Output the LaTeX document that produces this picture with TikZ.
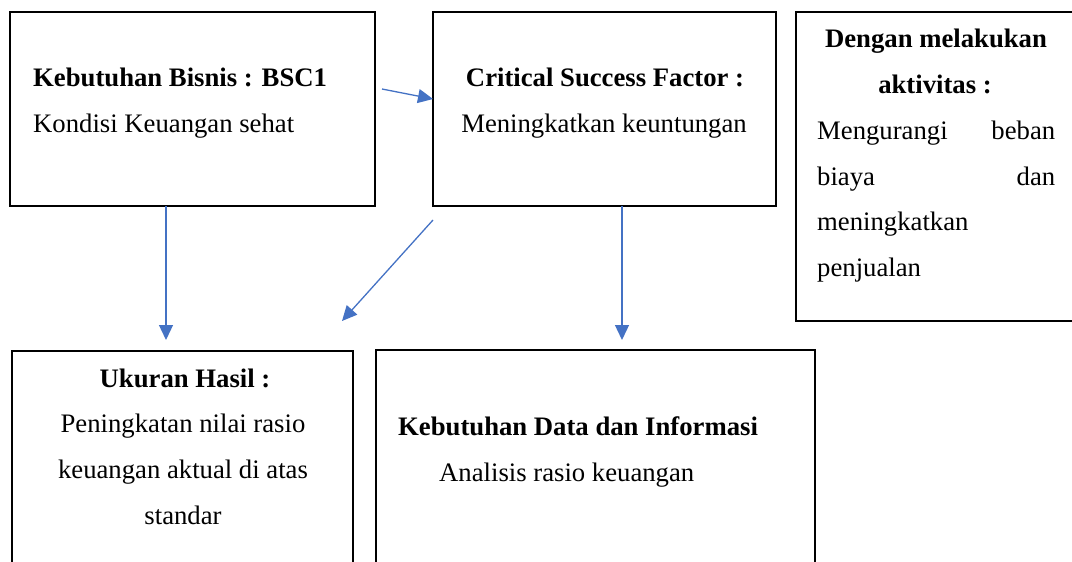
\documentclass[tikz,border=0pt]{standalone}
\usepackage{fontspec}
\setmainfont{Liberation Serif}
\usetikzlibrary{arrows.meta}
\definecolor{arrblue}{HTML}{4472C4}
\tikzset{
  box/.style={draw=black, line width=2pt, inner sep=0pt, outer sep=0pt},
  txt/.style={inner sep=0pt, font=\fontsize{26.7}{32}\selectfont},
  btxt/.style={txt, font=\fontsize{26.7}{32}\selectfont\bfseries},
  conn/.style={draw=arrblue, line width=1.3pt, -{Triangle[length=15pt,width=14pt]}}
}
\begin{document}
\begin{tikzpicture}[x=1pt,y=-1pt]
\useasboundingbox (0,0) rectangle (1072,562);
\begin{scope}
\clip (0,0) rectangle (1072,562);
% boxes
\node[box, minimum width=365pt, minimum height=194pt] (A) at (192.5,109) {};
\node[box, minimum width=343pt, minimum height=194pt] (B) at (604.5,109) {};
\node[box, minimum width=400pt, minimum height=309pt] (C) at (996,166.5) {};
\node[box, minimum width=341pt, minimum height=260pt] (D) at (182.5,481) {};
\node[box, minimum width=439pt, minimum height=260pt] (E) at (595.5,480) {};
\end{scope}
% texts box A
\node[btxt, anchor=base west] (a1) at (33,86) {Kebutuhan Bisnis : BSC1};
\node[txt, anchor=base west] (a2) at (33,132) {Kondisi Keuangan sehat};
% texts box B
\node[btxt, anchor=base] (b1) at (605,86) {Critical Success Factor :};
\node[txt, anchor=base] (b2) at (604,132) {Meningkatkan keuntungan};
% texts box C
\node[btxt, anchor=base] (c1) at (936,47) {Dengan melakukan};
\node[btxt, anchor=base] (c2) at (935,93) {aktivitas :};
\node[txt, anchor=base west] (c3) at (817,139) {\makebox[238pt][s]{Mengurangi\hfill beban}};
\node[txt, anchor=base west] (c4) at (817,185) {\makebox[238pt][s]{biaya\hfill dan}};
\node[txt, anchor=base west] (c5) at (817,230) {meningkatkan};
\node[txt, anchor=base west] (c6) at (817,276) {penjualan};
% texts box D
\node[btxt, anchor=base] (d1) at (185,387) {Ukuran Hasil :};
\node[txt, anchor=base] (d2) at (183,432) {Peningkatan nilai rasio};
\node[txt, anchor=base] (d3) at (183,478) {keuangan aktual di atas};
\node[txt, anchor=base] (d4) at (183,524) {standar};
% texts box E
\node[btxt, anchor=base west] (e1) at (398,435) {Kebutuhan Data dan Informasi};
\node[txt, anchor=base west] (e2) at (439,481) {Analisis rasio keuangan};
% connector end points
\coordinate (p1s) at (382,89);
\coordinate (p1e) at (433,99);
\coordinate (p2s) at (166,206);
\coordinate (p2e) at (166,340);
\coordinate (p3s) at (433,220);
\coordinate (p3e) at (342,321);
\coordinate (p4s) at (622,206);
\coordinate (p4e) at (622,340);
% connectors
\draw[conn] (p1s) -- (p1e);
\draw[conn] (p2s) -- (p2e);
\draw[conn] (p3s) -- (p3e);
\draw[conn] (p4s) -- (p4e);
\end{tikzpicture}
\end{document}
